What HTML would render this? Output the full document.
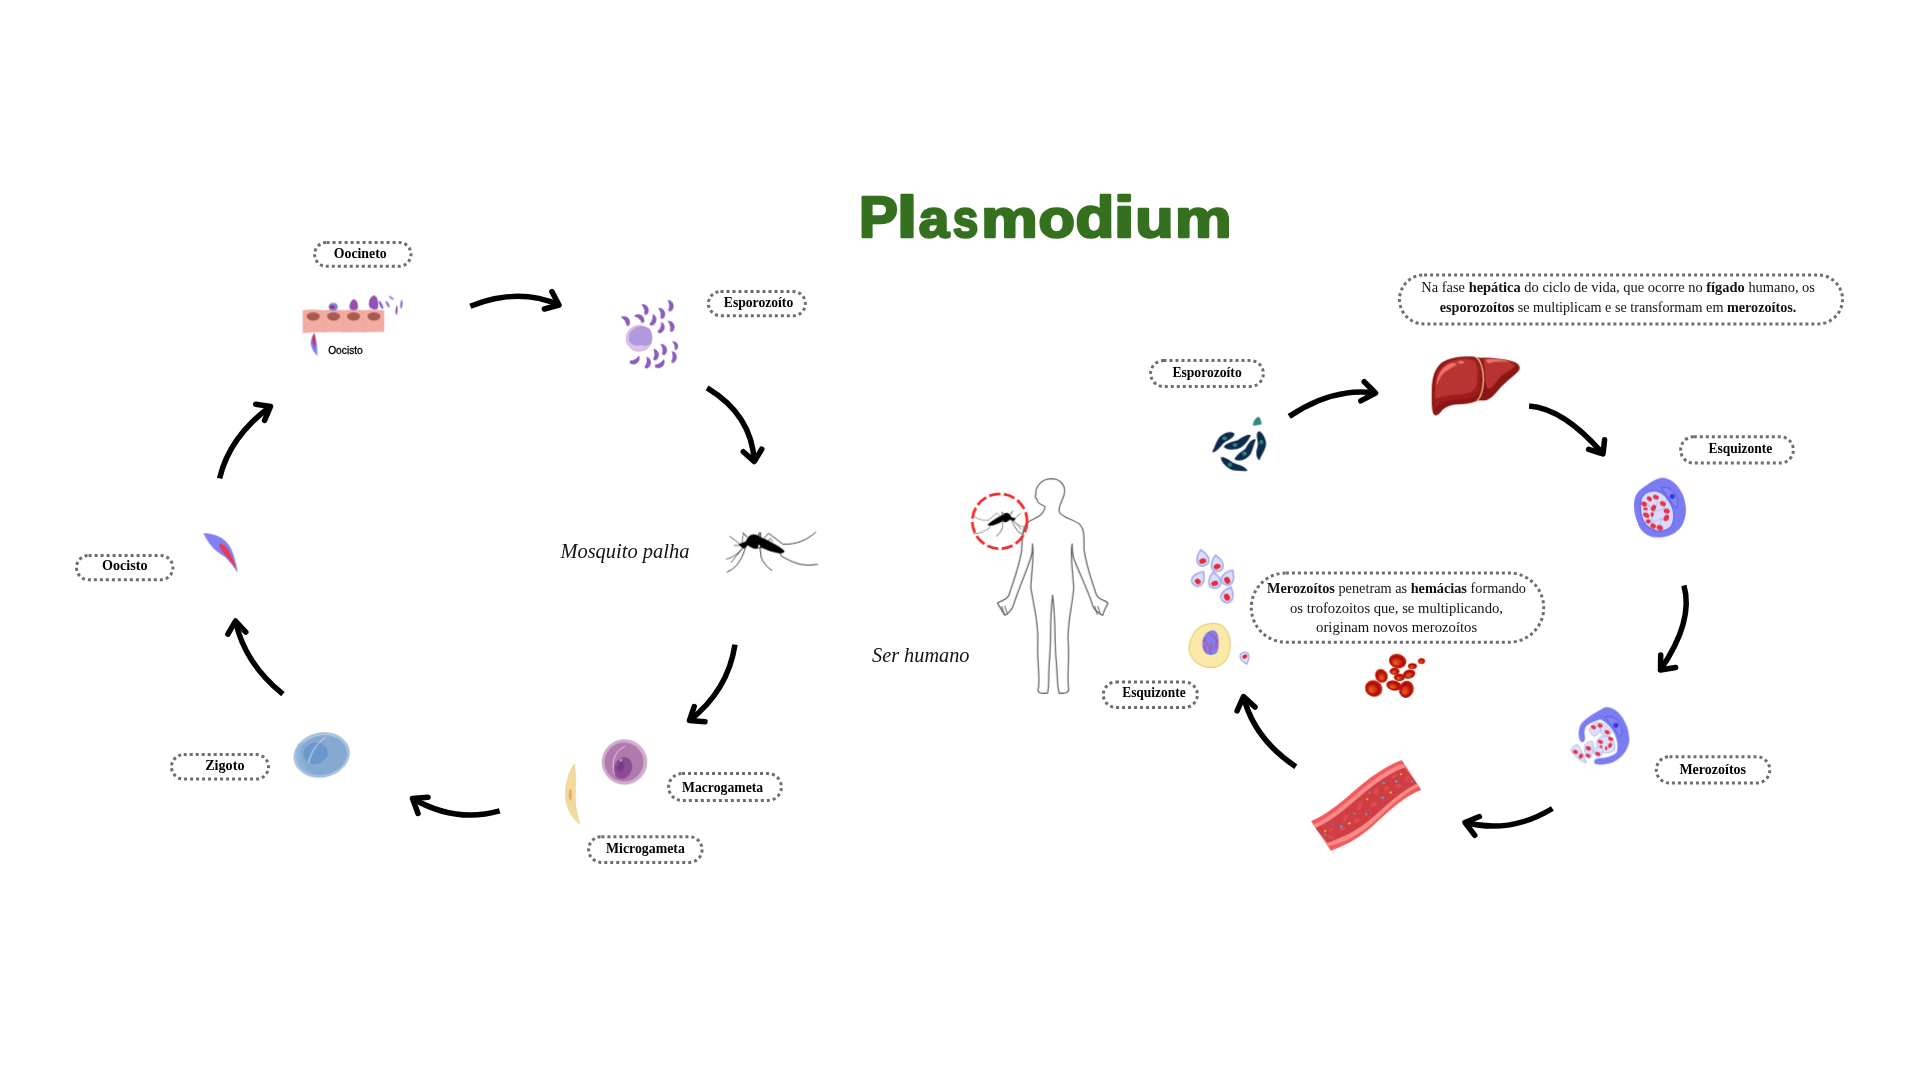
<!DOCTYPE html>
<html><head><meta charset="utf-8"><title>Plasmodium</title>
<style>
html,body{margin:0;padding:0;background:#fff;}
body{width:1920px;height:1080px;overflow:hidden;position:relative;}
svg{position:absolute;left:0;top:0;will-change:transform;}
.lbl text{font-family:"Liberation Serif",serif;font-weight:bold;font-size:14px;fill:#000;}
.par text{font-family:"Liberation Serif",serif;font-size:14.3px;fill:#111;}
.par tspan.b{font-weight:bold;}
.it{font-family:"Liberation Serif",serif;font-style:italic;font-size:20.3px;fill:#111;}
.ttl{font-family:"Liberation Sans",sans-serif;font-weight:bold;font-size:57px;fill:#35701e;}
.sm{font-family:"Liberation Sans",sans-serif;font-size:10.5px;fill:#000;}
</style></head>
<body>
<svg width="1920" height="1080" viewBox="0 0 1920 1080">
<g class="ttl" stroke="#35701e" stroke-width="2.6" stroke-linejoin="round"><text transform="translate(858.9 237) scale(1.02 1)">P</text><text transform="translate(896.9 237) scale(1.27 1)">l</text><text transform="translate(918.8 237) scale(0.96 0.94)">a</text><text transform="translate(952.7 237) scale(0.807 0.94)">s</text><text transform="translate(981.2 237) scale(1.113 0.94)">m</text><text transform="translate(1038.5 237) scale(1.045 0.94)">o</text><text transform="translate(1075.5 237) scale(1.113 1)">d</text><text transform="translate(1113.7 237) scale(1.32 1)">i</text><text transform="translate(1135.3 237) scale(1.1 0.94)">u</text><text transform="translate(1174.9 237) scale(1.115 0.94)">m</text></g>
<!-- Oocineto / epithelium (295,285 scale 13.5 -> viewBox 1552x1080 at 115x80) -->
<svg x="295" y="285" width="115" height="80" viewBox="0 0 1552 1080">
 <g fill="#f2aca2" stroke="#e8968c" stroke-width="6">
  <path d="M108,345 C180,330 300,335 385,345 L385,635 C300,625 180,640 108,645 Z"/>
  <path d="M385,345 C470,335 580,338 655,345 L655,635 C580,628 470,630 385,635 Z"/>
  <path d="M655,345 C740,338 850,338 925,345 L925,635 C850,630 740,630 655,635 Z"/>
  <path d="M925,345 C1010,338 1120,338 1200,345 L1200,630 C1120,628 1010,630 925,635 Z"/>
 </g>
 <g fill="#a85c50">
  <ellipse cx="245" cy="425" rx="90" ry="55"/>
  <ellipse cx="520" cy="425" rx="88" ry="55"/>
  <ellipse cx="790" cy="425" rx="88" ry="55"/>
  <ellipse cx="1065" cy="425" rx="88" ry="55"/>
 </g>
 <ellipse cx="515" cy="295" rx="62" ry="55" fill="#6f86f2"/>
 <ellipse cx="500" cy="298" rx="35" ry="22" fill="#d82038"/>
 <path d="M790,190 C840,200 860,280 845,320 C820,350 760,345 740,320 C720,280 750,210 790,190 Z" fill="#8a56c0"/>
 <path d="M1060,140 C1120,150 1125,230 1120,320 C1080,340 1020,335 1000,290 C985,230 1010,160 1060,140 Z" fill="#8a56c0"/>
 <g fill="#d83050" opacity="0.7">
  <circle cx="770" cy="240" r="14"/><circle cx="810" cy="270" r="14"/><circle cx="780" cy="300" r="14"/><circle cx="820" cy="220" r="12"/>
  <circle cx="1040" cy="200" r="14"/><circle cx="1080" cy="240" r="14"/><circle cx="1030" cy="270" r="14"/><circle cx="1090" cy="300" r="12"/><circle cx="1060" cy="170" r="12"/>
 </g>
 <g fill="#7a86f0">
  <ellipse cx="1160" cy="270" rx="20" ry="60" transform="rotate(-25 1160 270)"/>
  <ellipse cx="1250" cy="260" rx="16" ry="50" transform="rotate(-30 1250 260)"/>
  <ellipse cx="1300" cy="175" rx="14" ry="40" transform="rotate(-55 1300 175)"/>
  <ellipse cx="1370" cy="340" rx="15" ry="65" transform="rotate(5 1370 340)"/>
  <ellipse cx="1435" cy="260" rx="15" ry="60" transform="rotate(5 1435 260)"/>
 </g>
 <g fill="#d82848">
  <ellipse cx="1160" cy="270" rx="6" ry="30" transform="rotate(-25 1160 270)"/>
  <ellipse cx="1250" cy="260" rx="5" ry="25" transform="rotate(-30 1250 260)"/>
  <ellipse cx="1370" cy="340" rx="5" ry="30" transform="rotate(5 1370 340)"/>
  <ellipse cx="1435" cy="260" rx="5" ry="28" transform="rotate(5 1435 260)"/>
 </g>
 <path d="M258,640 C285,710 305,820 300,955 C245,900 205,820 212,760 C222,705 245,670 258,640 Z" fill="#7a82f2"/>
 <path d="M258,650 C270,705 278,770 270,850 C240,800 228,750 236,715 C244,685 252,668 258,650 Z" fill="#e02850"/>
</svg>
<text class="sm" stroke="#000" stroke-width="0.3" x="328.2" y="354.3" textLength="34.6" lengthAdjust="spacingAndGlyphs">Oocisto</text>

<!-- Esporozoito left (610,290 scale 12.7 -> 953x1080 at 75x85) -->
<svg x="610" y="290" width="75" height="85" viewBox="0 0 953 1080">
 <defs><path id="crs" d="M-85,12 C-68,-62 52,-76 86,14 C90,48 60,56 42,38 C16,10 -40,4 -85,12 Z"/></defs>
 <circle cx="370" cy="615" r="165" fill="#dcc2e6" stroke="#c9a2d2" stroke-width="8"/>
 <path d="M235,590 C250,540 270,500 340,470 C380,455 450,455 500,490 C535,530 540,600 525,660 C505,710 460,720 400,700 C340,715 290,700 260,670 C240,650 232,620 235,590 Z" fill="#b298dc"/>
 <g fill="#8a5cbc">
  <use href="#crs" transform="translate(200 385) rotate(40) scale(0.86)"/>
  <use href="#crs" transform="translate(375 355) rotate(25) scale(0.86)"/>
  <use href="#crs" transform="translate(445 240) rotate(58) scale(0.86)"/>
  <use href="#crs" transform="translate(548 380) rotate(92) scale(0.86)"/>
  <use href="#crs" transform="translate(655 290) rotate(62) scale(0.86)"/>
  <use href="#crs" transform="translate(765 195) rotate(72) scale(0.86)"/>
  <use href="#crs" transform="translate(652 478) rotate(96) scale(0.86)"/>
  <use href="#crs" transform="translate(775 455) rotate(62) scale(0.86)"/>
  <use href="#crs" transform="translate(322 893) rotate(135) scale(0.86)"/>
  <use href="#crs" transform="translate(478 922) rotate(86) scale(0.86)"/>
  <use href="#crs" transform="translate(578 818) rotate(76) scale(0.86)"/>
  <use href="#crs" transform="translate(680 750) rotate(66) scale(0.86)"/>
  <use href="#crs" transform="translate(828 700) rotate(58) scale(0.7)"/>
  <use href="#crs" transform="translate(808 848) rotate(78) scale(0.86)"/>
  <use href="#crs" transform="translate(640 940) rotate(132) scale(0.86)"/>
 </g>
</svg>

<!-- Mosquito left (720,525 scale 18.29 -> 1920x914 at 105x50) -->
<svg x="720" y="525" width="105" height="50" viewBox="0 0 1920 914">
 <g fill="#000">
  <path d="M340,360 C360,335 410,325 470,305 C500,230 540,178 600,170 C660,165 720,200 760,232 C850,268 950,318 1050,378 C1110,418 1160,448 1182,480 C1172,512 1120,522 1060,512 C960,496 860,462 780,422 C740,420 720,412 700,422 C670,442 630,442 600,422 C560,402 530,382 505,372 C482,392 462,422 432,432 C400,422 380,390 340,360 Z"/>
 </g>
 <g fill="none" stroke="#000" stroke-linecap="round">
  <path d="M810,235 L890,150 L1150,350 C1400,360 1600,270 1750,130" stroke-width="14"/>
  <path d="M1100,510 L1125,570 C1300,660 1450,770 1780,720" stroke-width="14"/>
  <path d="M730,400 L755,600 C800,700 880,790 950,830" stroke-width="14"/>
  <path d="M470,400 C440,500 400,620 300,740 C250,790 180,840 130,860" stroke-width="14"/>
  <path d="M420,420 C330,520 230,600 120,620" stroke-width="12"/>
  <path d="M400,440 C330,530 270,600 210,680" stroke-width="12"/>
  <path d="M360,350 C300,290 240,250 180,210" stroke-width="12"/>
  <path d="M350,370 L260,375" stroke-width="10"/>
  <path d="M420,140 L490,215" stroke-width="18"/>
  <path d="M430,170 C410,220 405,290 410,340" stroke-width="10"/>
  <path d="M720,140 L705,220 M740,140 L740,220" stroke-width="16"/>
  <path d="M880,290 L920,240 L960,300" stroke-width="10"/>
 </g>
 <ellipse cx="715" cy="385" rx="18" ry="28" fill="#fff"/>
</svg>

<!-- Macrogameta -->
<svg x="555" y="730" width="100" height="100" viewBox="0 0 1080 1080">
 <circle cx="750" cy="345" r="240" fill="#d4acd6" stroke="#b9a6b8" stroke-width="10"/>
 <circle cx="745" cy="345" r="210" fill="#b07aac"/>
 <path d="M760,175 C650,220 600,330 640,480" fill="none" stroke="#e6cde6" stroke-width="10"/>
 <ellipse cx="735" cy="410" rx="95" ry="120" transform="rotate(20 735 410)" fill="#8c4c94"/>
 <ellipse cx="710" cy="395" rx="35" ry="50" transform="rotate(20 710 395)" fill="#7a3a8a"/>
 <circle cx="710" cy="325" r="10" fill="#f0e0f0"/>
 <path d="M210,370 C230,500 210,650 220,800 C230,900 250,960 265,1015 C200,960 140,880 120,760 C100,640 140,450 210,370 Z" fill="#f3dc9a" stroke="#e0c88c" stroke-width="8"/>
 <ellipse cx="165" cy="700" rx="17" ry="60" fill="#e8a878"/>
</svg>

<!-- Zigoto -->
<svg x="285" y="725" width="75" height="60" viewBox="0 0 1350 1080">
 <ellipse cx="660" cy="540" rx="500" ry="395" transform="rotate(-12 660 540)" fill="#a6cbeb" stroke="#9aa6b0" stroke-width="14"/>
 <ellipse cx="665" cy="545" rx="460" ry="355" transform="rotate(-12 665 545)" fill="#86a9d1"/>
 <path d="M250,330 C180,420 170,600 250,720 C320,820 420,860 520,880 C380,800 300,700 290,560 C285,450 300,380 350,300 Z" fill="#8cb8e2" opacity="0.8"/>
 <ellipse cx="550" cy="510" rx="210" ry="180" transform="rotate(-12 550 510)" fill="#6c98cc" stroke="#5a82b2" stroke-width="8"/>
 <path d="M740,210 C600,300 470,460 425,680" fill="none" stroke="#dbe9f6" stroke-width="16"/>
</svg>

<!-- Oocisto left crescent -->
<svg x="195" y="525" width="55" height="55" viewBox="0 0 1080 1080">
 <path d="M165,160 C400,170 600,250 700,450 C780,620 820,800 840,940 C760,820 650,650 520,580 C380,500 250,350 165,160 Z" fill="#8080f2"/>
 <path d="M480,370 C560,360 640,450 690,560 C740,660 790,780 810,870 C740,780 680,680 600,590 C530,510 470,450 480,370 Z" fill="#e83850"/>
</svg>

<!-- Human figure (960,470 scale 4.594 -> 735x1080 at 160x235) -->
<svg x="960" y="470" width="160" height="235" viewBox="0 0 735 1080">
 <path fill="none" stroke="#6a6a6a" stroke-width="6" stroke-linejoin="round"
  d="M390,168 C372,160 352,150 355,138 C350,130 340,128 348,112 C345,75 375,42 418,40 C462,40 488,72 478,112 C472,140 452,165 455,190
     C462,218 520,225 550,250 C575,275 568,320 570,370 C580,440 605,510 625,570 C635,600 665,595 680,612
     C670,630 660,650 655,668 C640,660 620,650 610,625 C585,545 545,470 520,400 C515,370 515,350 515,340
     C505,380 515,440 522,540 C515,640 490,700 497,800 C502,860 492,950 498,1000 C502,1020 490,1030 455,1025
     C445,990 448,950 442,880 C432,800 442,700 425,575
     C410,700 420,800 410,880 C405,950 410,990 402,1025 C365,1030 352,1022 360,1000 C368,950 352,860 357,800
     C362,700 340,640 325,540 C330,440 342,380 332,340 C332,350 335,372 325,402 C305,465 270,545 248,612
     C240,640 222,660 205,668 C195,650 183,632 172,612 C190,598 210,600 222,580 C245,515 270,445 282,375
     C288,325 280,280 305,245 C330,222 385,218 390,168 Z"/>
 <g fill="none" stroke="#6a6a6a" stroke-width="5">
  <path d="M190,625 L205,665 M205,625 L218,665 M618,625 L630,665 M632,625 L645,665"/>
 </g>
 <circle cx="182" cy="235.7" r="126" fill="none" stroke="#f42a2a" stroke-width="12.5" stroke-dasharray="52 16"/>
</svg>

<!-- small mosquito in circle -->
<g transform="translate(1002 519) rotate(-4) scale(-0.034 0.034) translate(-750 -340)">
 <path fill="#000" d="M340,360 C360,335 410,325 470,305 C500,230 540,178 600,170 C660,165 720,200 760,232 C850,268 950,318 1050,378 C1110,418 1160,448 1182,480 C1172,512 1120,522 1060,512 C960,496 860,462 780,422 C740,420 720,412 700,422 C670,442 630,442 600,422 C560,402 530,382 505,372 C482,392 462,422 432,432 C400,422 380,390 340,360 Z"/>
 <g fill="none" stroke="#8a8a8a" stroke-linecap="round">
  <path d="M810,235 L890,150 L1150,350 C1300,360 1450,300 1550,220" stroke-width="26"/>
  <path d="M1100,510 L1125,570 C1250,640 1400,720 1600,720" stroke-width="26"/>
  <path d="M730,400 L755,600 C800,700 880,790 950,830" stroke-width="30"/>
  <path d="M470,400 C440,500 400,620 300,740 C250,790 180,840 130,860" stroke-width="30"/>
  <path d="M420,420 C330,520 230,600 120,620" stroke-width="28"/>
  <path d="M400,440 C330,530 270,600 210,680" stroke-width="28"/>
  <path d="M360,350 C300,290 240,250 180,210" stroke-width="28"/>
  <path d="M420,140 L490,215" stroke-width="36"/>
  <path d="M720,140 L705,220 M740,140 L740,220" stroke-width="30"/>
 </g>
</g>

<!-- Esporozoito right (1200,405 scale 14.4 -> 1152x1080 at 80x75) -->
<svg x="1200" y="405" width="80" height="75" viewBox="0 0 1152 1080">
 <g fill="#0e2a4c" stroke="#0e2a4c" stroke-width="22" stroke-linejoin="round">
  <path d="M190,670 C230,600 240,520 300,460 C360,410 430,390 480,410 C500,440 430,490 360,520 C300,560 270,640 190,670 Z"/>
  <path d="M355,600 C380,560 470,540 540,520 C610,470 670,430 720,440 C700,480 650,560 590,600 C520,640 400,640 355,600 Z"/>
  <path d="M510,780 C530,720 600,680 660,640 C700,560 740,500 790,500 C770,560 750,640 720,700 C670,770 590,800 510,780 Z"/>
  <path d="M860,390 C900,420 940,500 940,560 C940,640 880,700 850,780 C810,740 820,660 840,600 C860,540 820,470 830,420 C835,395 845,385 860,390 Z"/>
  <path d="M310,760 C360,760 420,800 470,840 C540,870 640,880 670,940 C600,940 520,945 450,920 C380,880 320,840 310,760 Z"/>
 </g>
 <g fill="#2e8a80">
  <ellipse cx="355" cy="480" rx="34" ry="26"/><ellipse cx="505" cy="575" rx="34" ry="26"/><ellipse cx="640" cy="700" rx="34" ry="28"/><ellipse cx="885" cy="535" rx="26" ry="34"/><ellipse cx="430" cy="860" rx="32" ry="28"/>
  <path d="M760,300 C770,220 800,180 850,170 C880,200 880,240 890,275 C840,290 790,300 760,300 Z"/>
 </g>
</svg>

<!-- Liver (1425,350 scale 15.43 -> 1543x1080 at 100x70) -->
<svg x="1425" y="350" width="100" height="70" viewBox="0 0 1543 1080">
 <path fill="#8c1616" d="M160,1010 C110,990 100,900 105,650 C100,450 140,300 250,200 C350,130 500,100 680,100 C760,100 800,110 840,120 C1000,110 1250,130 1390,190 C1470,230 1480,290 1430,340 C1330,440 1230,500 1130,620 C1050,720 980,780 900,780 C850,780 820,780 790,790 C700,830 600,840 480,840 C380,850 300,880 240,960 C210,1000 180,1010 160,1010 Z"/>
 <path fill="#9e1c1c" d="M150,900 C130,750 130,550 160,420 C200,290 300,190 450,140 C560,110 700,115 790,140 C860,200 870,400 850,600 C820,720 700,760 520,760 C370,770 250,800 150,900 Z"/>
 <path fill="#b83430" d="M160,760 C150,620 160,480 200,380 C250,260 350,180 480,150 C600,130 720,140 780,180 C820,260 815,450 790,570 C760,660 640,680 500,690 C360,700 240,720 160,760 Z"/>
 <path fill="#b83430" d="M900,140 C1100,130 1300,160 1390,230 C1360,300 1270,330 1190,390 C1110,460 1050,590 980,600 C920,580 930,400 900,140 Z"/>
 <path fill="#f07068" d="M175,550 C180,400 250,270 380,210 C450,190 500,200 480,230 C400,280 300,330 250,400 C210,460 200,520 175,550 Z"/>
 <ellipse cx="555" cy="190" rx="48" ry="24" fill="#f07068"/>
 <path fill="#f07068" d="M940,150 C990,125 1200,145 1325,185 C1200,180 1060,172 1005,200 C965,212 942,182 940,150 Z"/>
 <path fill="none" stroke="#f0d080" stroke-width="20" d="M780,105 C860,150 900,300 900,450 C900,600 880,700 800,790"/>
</svg>

<!-- Esquizonte right (1625,470 scale 14.4 -> 1008x1080 at 70x75) -->
<svg x="1625" y="470" width="70" height="75" viewBox="0 0 1008 1080">
 <path fill="#7c7cf2" d="M200,300 C300,220 420,130 530,110 C650,110 760,200 830,350 C890,500 900,650 820,800 C740,920 600,980 440,970 C300,960 200,850 180,750 C120,620 100,400 200,300 Z"/>
 <path fill="#dadcfa" stroke="#6868ea" stroke-width="18" d="M230,420 C260,330 360,290 440,300 C560,320 640,430 690,560 C720,680 700,800 620,850 C520,900 400,880 300,790 C230,700 200,550 230,420 Z"/>
 <path fill="#8484f2" stroke="#5a5ae8" stroke-width="14" d="M520,250 C600,230 700,280 740,380 C770,460 760,530 740,550 C680,480 600,380 520,250 Z"/>
 <circle cx="680" cy="380" r="36" fill="#3838e0"/>
 <g fill="none" stroke="#9ea4f0" stroke-width="8"><path d="M300,460 L420,600 L380,760 M420,600 L560,560 L640,720 M480,420 L420,600 M560,560 L600,420 M380,760 L520,700 L640,720 M520,700 L500,860"/></g>
 <g fill="#e83242">
  <ellipse cx="350" cy="415" rx="42" ry="31" transform="rotate(40 350 415)"/><ellipse cx="445" cy="390" rx="44" ry="31" transform="rotate(20 445 390)"/><ellipse cx="275" cy="490" rx="44" ry="34" transform="rotate(30 275 490)"/>
  <ellipse cx="410" cy="545" rx="34" ry="47" transform="rotate(30 410 545)"/><ellipse cx="545" cy="485" rx="44" ry="34" transform="rotate(30 545 485)"/><ellipse cx="295" cy="560" rx="34" ry="21"/>
  <ellipse cx="600" cy="590" rx="44" ry="34" transform="rotate(20 600 590)"/><ellipse cx="305" cy="650" rx="47" ry="34" transform="rotate(30 305 650)"/><ellipse cx="390" cy="640" rx="23" ry="34"/>
  <ellipse cx="595" cy="690" rx="36" ry="49" transform="rotate(30 595 690)"/><ellipse cx="335" cy="740" rx="36" ry="31"/><ellipse cx="405" cy="805" rx="42" ry="34" transform="rotate(30 405 805)"/><ellipse cx="500" cy="830" rx="47" ry="36" transform="rotate(30 500 830)"/>
 </g>
</svg>

<!-- Merozoitos right (1565,700 scale 15.43 -> 1080x1080 at 70x70) -->
<svg x="1565" y="700" width="70" height="70" viewBox="0 0 1080 1080">
 <path fill="#7c7cf2" d="M250,650 C200,600 190,450 260,350 C350,260 470,190 600,120 C700,90 800,150 880,260 C960,380 1000,520 990,650 C960,800 870,900 720,970 C620,1000 500,1010 460,980 C430,950 460,900 520,900 C620,900 760,860 800,800 C820,700 810,600 740,480 C680,380 600,320 540,300 C460,320 380,360 330,400 C290,450 300,520 310,580 C310,630 290,660 250,650 Z"/>
 <path fill="#8484f2" stroke="#5a5ae8" stroke-width="14" d="M610,260 C700,240 800,270 860,380 C900,460 880,540 850,570 C780,480 700,360 610,260 Z"/>
 <circle cx="785" cy="390" r="40" fill="#3838e0"/>
 <g fill="#dcdffa" stroke="#a8aef2" stroke-width="12">
  <path d="M380,430 C420,350 520,330 560,350 C600,420 560,520 440,560 C390,520 370,470 380,430 Z"/>
  <path d="M560,350 C620,380 700,430 720,500 C700,560 640,580 590,560 C540,500 540,420 560,350 Z"/>
  <path d="M490,640 C520,560 600,540 660,560 C760,600 790,700 760,780 C700,820 620,830 560,800 C500,760 480,700 490,640 Z"/>
  <path d="M300,700 C330,640 400,620 430,650 C450,720 440,840 380,900 C320,880 290,780 300,700 Z"/>
  <path d="M440,780 C480,720 540,700 580,740 C590,800 570,860 520,880 C470,870 440,830 440,780 Z"/>
  <path d="M90,780 C110,720 170,680 200,690 C240,760 300,850 330,970 C260,960 180,900 90,780 Z"/>
 </g>
 <g fill="#e83242">
  <ellipse cx="440" cy="420" rx="40" ry="30" transform="rotate(20 440 420)"/><ellipse cx="540" cy="395" rx="40" ry="30" transform="rotate(20 540 395)"/><ellipse cx="650" cy="495" rx="42" ry="30" transform="rotate(20 650 495)"/>
  <ellipse cx="705" cy="600" rx="42" ry="30" transform="rotate(20 705 600)"/><ellipse cx="545" cy="645" rx="42" ry="30" transform="rotate(20 545 645)"/><ellipse cx="695" cy="700" rx="30" ry="40" transform="rotate(30 695 700)"/>
  <ellipse cx="555" cy="720" rx="18" ry="26"/><ellipse cx="635" cy="745" rx="18" ry="30"/><ellipse cx="360" cy="745" rx="42" ry="32" transform="rotate(20 360 745)"/>
  <ellipse cx="505" cy="830" rx="42" ry="30" transform="rotate(20 505 830)"/><ellipse cx="355" cy="860" rx="40" ry="30" transform="rotate(20 355 860)"/><ellipse cx="160" cy="800" rx="40" ry="30" transform="rotate(20 160 800)"/><ellipse cx="245" cy="865" rx="30" ry="40" transform="rotate(30 245 865)"/>
 </g>
</svg>

<!-- Merozoite teardrops + yellow esquizonte (1180,540 scale 8.31 -> 665x1080 at 80x130) -->
<svg x="1180" y="540" width="80" height="130" viewBox="0 0 665 1080">
 <defs>
  <path id="tdr" d="M0,-70 C30,-40 55,-5 50,25 C45,55 20,65 0,65 C-25,65 -48,50 -48,20 C-48,-10 -25,-45 0,-70 Z"/>
 </defs>
 <g fill="#dcdff9" stroke="#a4acf0" stroke-width="14">
  <use href="#tdr" transform="translate(185,150) rotate(-10)"/>
  <use href="#tdr" transform="translate(305,195) rotate(-8)"/>
  <use href="#tdr" transform="translate(155,320) rotate(35)"/>
  <use href="#tdr" transform="translate(285,335) rotate(-8)"/>
  <use href="#tdr" transform="translate(400,310) rotate(30)"/>
  <use href="#tdr" transform="translate(395,455) rotate(25)"/>
  <use href="#tdr" transform="translate(540,980) rotate(165) scale(0.75)"/>
 </g>
 <g fill="#e8283c">
  <ellipse cx="188" cy="175" rx="30" ry="22" transform="rotate(-20 188 175)"/>
  <ellipse cx="308" cy="220" rx="30" ry="22" transform="rotate(-20 308 220)"/>
  <ellipse cx="148" cy="345" rx="26" ry="22" transform="rotate(40 148 345)"/>
  <ellipse cx="288" cy="360" rx="30" ry="22" transform="rotate(-20 288 360)"/>
  <ellipse cx="392" cy="335" rx="24" ry="30" transform="rotate(-30 392 335)"/>
  <ellipse cx="390" cy="475" rx="24" ry="30" transform="rotate(-30 390 475)"/>
  <ellipse cx="538" cy="968" rx="22" ry="16" transform="rotate(-30 538 968)"/>
 </g>
 <path fill="#fbe9aa" stroke="#ead074" stroke-width="10" d="M100,800 C150,700 250,680 330,700 C410,740 420,820 415,900 C410,980 360,1050 270,1060 C170,1060 80,1000 75,900 C75,860 85,830 100,800 Z"/>
 <path fill="#7e80f0" d="M185,880 C180,800 230,745 280,750 C330,770 330,880 310,930 C280,970 200,970 185,880 Z"/>
 <clipPath id="nuc"><path d="M185,880 C180,800 230,745 280,750 C330,770 330,880 310,930 C280,970 200,970 185,880 Z"/></clipPath>
 <g clip-path="url(#nuc)" fill="none" stroke="#d83a78" stroke-width="9" opacity="0.85">
  <path d="M190,800 C220,820 200,850 230,870 C260,890 230,920 260,940 M240,770 C260,800 290,790 300,830 C310,860 280,880 310,900 M200,880 C220,900 190,930 220,950 M270,850 C250,870 280,890 260,910 M300,770 L320,800 M180,840 L210,830"/>
 </g>
</svg>

<!-- RBC cluster (1360,648 scale 19.64 -> 1375x1080 at 70x55) -->
<svg x="1360" y="648" width="70" height="55" viewBox="0 0 1375 1080">
 <defs>
  <radialGradient id="rbc" cx="50%" cy="50%" r="52%" fx="40%" fy="70%">
   <stop offset="0%" stop-color="#f06028"/>
   <stop offset="35%" stop-color="#d83a14"/>
   <stop offset="70%" stop-color="#a80808"/>
   <stop offset="92%" stop-color="#cc2a10"/>
   <stop offset="100%" stop-color="#e85020"/>
  </radialGradient>
 </defs>
 <g fill="url(#rbc)">
  <ellipse cx="740" cy="255" rx="175" ry="140" transform="rotate(15 740 255)"/>
  <ellipse cx="680" cy="455" rx="100" ry="70"/>
  <ellipse cx="1030" cy="355" rx="90" ry="60"/>
  <ellipse cx="1210" cy="255" rx="70" ry="60"/>
  <ellipse cx="775" cy="575" rx="110" ry="75"/>
  <ellipse cx="965" cy="510" rx="125" ry="90" transform="rotate(-15 965 510)"/>
  <ellipse cx="420" cy="545" rx="120" ry="140" transform="rotate(-30 420 545)"/>
  <ellipse cx="270" cy="795" rx="175" ry="160" transform="rotate(30 270 795)"/>
  <ellipse cx="665" cy="735" rx="150" ry="100" transform="rotate(10 665 735)"/>
  <ellipse cx="910" cy="810" rx="145" ry="170" transform="rotate(15 910 810)"/>
 </g>
</svg>

<!-- Blood vessel (1305,755 scale 10.8 -> 1296x1080 at 120x100) -->
<svg x="1305" y="755" width="120" height="100" viewBox="0 0 1296 1080">
 <path fill="#f25a5c" d="M65,715 C300,620 500,400 700,250 C850,140 950,90 1045,55 L1255,375 C1100,430 900,600 750,750 C550,930 400,990 280,1035 Z"/>
 <path fill="#f88c8a" d="M90,752 C330,645 520,435 715,290 C845,192 955,128 1058,95 L1225,340 C1085,405 935,535 795,675 C595,865 415,945 250,985 Z"/>
 <path fill="#cf3e42" d="M112,790 C360,680 560,460 750,320 C870,230 970,170 1080,135 L1208,310 C1058,380 900,520 760,650 C560,830 380,900 242,950 Z"/>
 <g fill="#e04a4e">
  <ellipse cx="965" cy="230" rx="30" ry="18" transform="rotate(-30 965 230)"/><ellipse cx="1105" cy="250" rx="22" ry="40" transform="rotate(40 1105 250)"/>
  <ellipse cx="1010" cy="335" rx="35" ry="22" transform="rotate(-25 1010 335)"/><ellipse cx="875" cy="360" rx="22" ry="30" transform="rotate(40 875 360)"/>
  <ellipse cx="770" cy="395" rx="22" ry="40"/><ellipse cx="745" cy="535" rx="38" ry="24" transform="rotate(-25 745 535)"/>
  <ellipse cx="590" cy="550" rx="22" ry="45" transform="rotate(20 590 550)"/><ellipse cx="435" cy="680" rx="22" ry="36" transform="rotate(20 435 680)"/>
  <ellipse cx="555" cy="710" rx="36" ry="24" transform="rotate(-25 555 710)"/><ellipse cx="400" cy="800" rx="30" ry="18"/>
  <ellipse cx="275" cy="805" rx="26" ry="16" transform="rotate(-30 275 805)"/><ellipse cx="280" cy="890" rx="36" ry="20" transform="rotate(10 280 890)"/>
 </g>
 <g fill="#5aa2e2">
  <circle cx="850" cy="300" r="14"/><circle cx="985" cy="285" r="14"/><circle cx="1155" cy="285" r="12"/><circle cx="698" cy="405" r="11"/>
  <circle cx="838" cy="462" r="14"/><circle cx="535" cy="632" r="11"/><circle cx="662" cy="640" r="11"/><circle cx="393" cy="770" r="14"/><circle cx="218" cy="862" r="11"/><circle cx="295" cy="748" r="7"/>
 </g>
 <g fill="#f2b430">
  <circle cx="1035" cy="207" r="12"/><circle cx="925" cy="405" r="13"/><circle cx="672" cy="478" r="12"/><circle cx="480" cy="738" r="13"/><circle cx="218" cy="820" r="12"/>
 </g>
</svg>

<g fill="none" stroke="#6d6d6d" stroke-width="3" stroke-dasharray="3 3">
<rect x="314.6" y="242.4" width="96.4" height="23.9" rx="12.0" ry="12.0"/>
<rect x="708.4" y="291.5" width="97.0" height="24.2" rx="12.1" ry="12.1"/>
<rect x="76.5" y="555.5" width="96.4" height="24.3" rx="12.1" ry="12.1"/>
<rect x="171.5" y="754.6" width="97.0" height="24.5" rx="12.2" ry="12.2"/>
<rect x="668.6" y="773.6" width="112.8" height="26.8" rx="13.4" ry="13.4"/>
<rect x="588.6" y="836.7" width="113.5" height="25.7" rx="12.8" ry="12.8"/>
<rect x="1150.6" y="360.6" width="112.8" height="25.8" rx="12.9" ry="12.9"/>
<rect x="1680.6" y="436.7" width="112.8" height="26.4" rx="13.2" ry="13.2"/>
<rect x="1656.3" y="756.7" width="113.5" height="26.4" rx="13.2" ry="13.2"/>
<rect x="1103.3" y="682.0" width="94.1" height="25.4" rx="12.7" ry="12.7"/>
<rect x="1399.5" y="274.9" width="443.0" height="49.1" rx="24.6" ry="24.6"/>
<rect x="1251.3" y="573.0" width="292.4" height="69.2" rx="34.6" ry="34.6"/>
</g>
<g class="lbl">
<text x="333.8" y="258.1" textLength="52.86" lengthAdjust="spacingAndGlyphs">Oocineto</text>
<text x="723.8" y="306.9" textLength="69.41" lengthAdjust="spacingAndGlyphs">Esporozoíto</text>
<text x="102.0" y="570" textLength="45.51" lengthAdjust="spacingAndGlyphs">Oocisto</text>
<text x="205.2" y="770" textLength="39.29" lengthAdjust="spacingAndGlyphs">Zigoto</text>
<text x="682.0" y="792.1" textLength="81.14" lengthAdjust="spacingAndGlyphs">Macrogameta</text>
<text x="606.0" y="852.8" textLength="78.83" lengthAdjust="spacingAndGlyphs">Microgameta</text>
<text x="1172.4" y="377.1" textLength="69.31" lengthAdjust="spacingAndGlyphs">Esporozoíto</text>
<text x="1708.6" y="452.8" textLength="63.73" lengthAdjust="spacingAndGlyphs">Esquizonte</text>
<text x="1679.4" y="773.8" textLength="66.61" lengthAdjust="spacingAndGlyphs">Merozoítos</text>
<text x="1122.2" y="697.1" textLength="63.42" lengthAdjust="spacingAndGlyphs">Esquizonte</text>
</g>
<g class="par">
<text x="1618.15" y="292" text-anchor="middle" textLength="393.6" lengthAdjust="spacingAndGlyphs">Na fase <tspan class="b">hepática</tspan> do ciclo de vida, que ocorre no <tspan class="b">fígado</tspan> humano, os</text>
<text x="1618.05" y="311.7" text-anchor="middle" textLength="356.5" lengthAdjust="spacingAndGlyphs"><tspan class="b">esporozoítos</tspan> se multiplicam e se transformam em <tspan class="b">merozoítos.</tspan></text>
<text x="1396.5" y="592.9" text-anchor="middle" textLength="259.0" lengthAdjust="spacingAndGlyphs"><tspan class="b">Merozoítos</tspan> penetram as <tspan class="b">hemácias</tspan> formando</text>
<text x="1396.5" y="612.6" text-anchor="middle" textLength="212.9" lengthAdjust="spacingAndGlyphs">os trofozoitos que, se multiplicando,</text>
<text x="1396.65" y="631.6" text-anchor="middle" textLength="161.1" lengthAdjust="spacingAndGlyphs">originam novos merozoítos</text>
</g>
<text class="it" x="560.4" y="557.7" textLength="129.0" lengthAdjust="spacingAndGlyphs">Mosquito palha</text>
<text class="it" x="872" y="661.9">Ser humano</text>
<g fill="none" stroke="#000" stroke-width="5.5">
<path d="M470.3,306.2 Q518,287 559,305" stroke-linecap="butt"/>
<path d="M551.9,291.6 L559,305 L544.4,309" stroke-linecap="round" stroke-linejoin="round"/>
<path d="M707.1,387.9 Q752,415 754.2,461.5" stroke-linecap="butt"/>
<path d="M743.3,451.7 L754.2,461.5 L761.7,449.2" stroke-linecap="round" stroke-linejoin="round"/>
<path d="M735,644.6 Q728,690.4 689.5,720.5" stroke-linecap="butt"/>
<path d="M694.2,706.7 L689.5,720.5 L705,721.7" stroke-linecap="round" stroke-linejoin="round"/>
<path d="M499.7,810.9 Q455.5,823.3 412.5,798.5" stroke-linecap="butt"/>
<path d="M428,797.2 L412.5,798.5 L418,813.5" stroke-linecap="round" stroke-linejoin="round"/>
<path d="M282.9,694.2 Q244.4,663 235.5,621" stroke-linecap="butt"/>
<path d="M227.9,634.2 L235.5,621 L245.8,632.1" stroke-linecap="round" stroke-linejoin="round"/>
<path d="M219.6,478.3 Q229.6,436.4 270.5,406.5" stroke-linecap="butt"/>
<path d="M255.8,404.2 L270.5,406.5 L264.6,420.4" stroke-linecap="round" stroke-linejoin="round"/>
<path d="M1289.2,416.4 Q1332.7,387 1375.5,393" stroke-linecap="butt"/>
<path d="M1364.2,381.7 L1375.5,393 L1360.8,400.9" stroke-linecap="round" stroke-linejoin="round"/>
<path d="M1529.1,406 Q1564.4,408.9 1603,454" stroke-linecap="butt"/>
<path d="M1604.6,439.7 L1603,454 L1588.7,449.4" stroke-linecap="round" stroke-linejoin="round"/>
<path d="M1683.9,585.6 Q1694,620.6 1660.5,670" stroke-linecap="butt"/>
<path d="M1660.7,655 L1660.5,670 L1675.6,667.5" stroke-linecap="round" stroke-linejoin="round"/>
<path d="M1552.4,808.5 Q1510.5,834.1 1465,822.5" stroke-linecap="butt"/>
<path d="M1479.4,816.5 L1465,822.5 L1474.8,835.4" stroke-linecap="round" stroke-linejoin="round"/>
<path d="M1295.8,766.7 Q1254,738.75 1243.5,696.5" stroke-linecap="butt"/>
<path d="M1237.1,710.8 L1243.5,696.5 L1255,707.1" stroke-linecap="round" stroke-linejoin="round"/>
</g>
</svg>
</body></html>
